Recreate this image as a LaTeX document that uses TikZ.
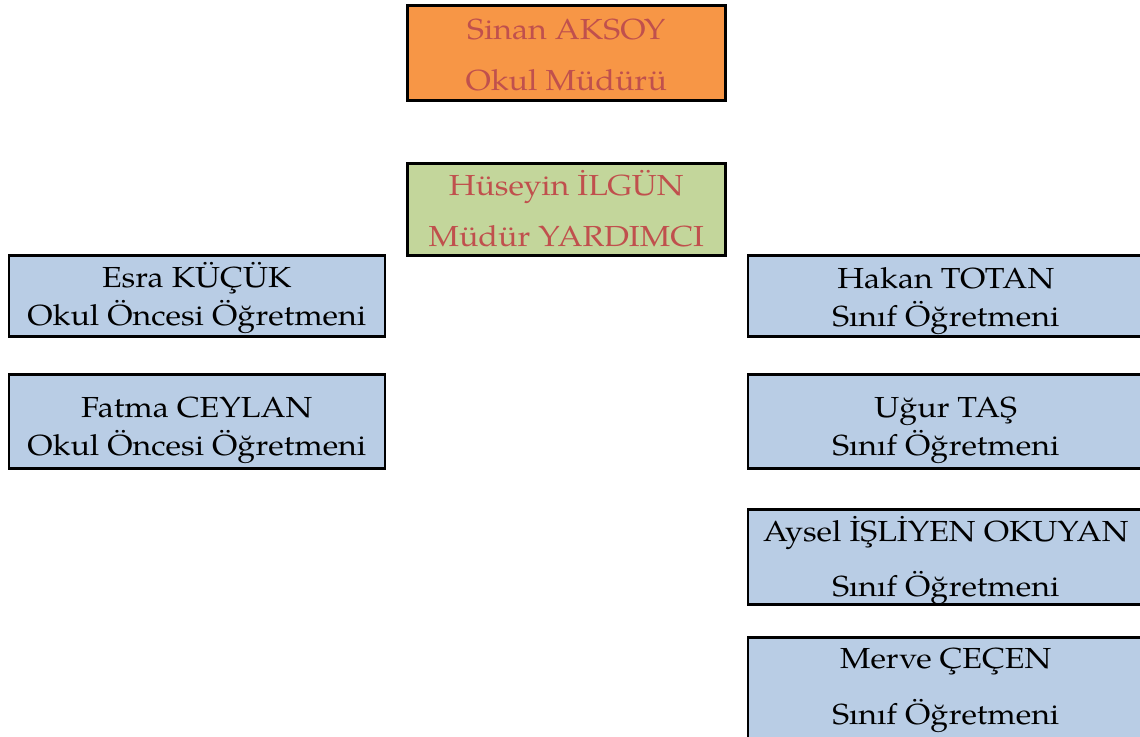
\documentclass[tikz,border=0pt]{standalone}
\usepackage{fontspec}
\setmainfont[FakeStretch=1.11]{texgyrepagella-regular.otf}
\definecolor{turuncu}{HTML}{F79646}
\definecolor{yesil}{HTML}{C3D69B}
\definecolor{mavi}{HTML}{B9CDE5}
\definecolor{kirmizi}{HTML}{C0504D}
\tikzset{
	kutu/.style={shape=rectangle, draw=black, line width=2.5pt, anchor=north west, align=center, inner sep=0pt},
	yonetici/.style={kutu, text=kirmizi, minimum width=318pt, font=\fontsize{29}{51}\selectfont},
	ogretmen/.style={kutu, fill=mavi, minimum width=376pt, font=\fontsize{29}{38}\selectfont},
	sinif/.style={ogretmen, minimum width=396pt}
}
\begin{document}
\begin{tikzpicture}[x=1pt, y=-1pt]
		\useasboundingbox (0, 0) rectangle (1140, 736);
		% management nodes
		\node[yonetici, fill=turuncu, text height=85.5pt, text depth=9.5pt] (Sinan) at (406, 4) {Sinan AKSOY\\Okul Müdürü};
		\node[yonetici, fill=yesil, text height=83pt, text depth=9pt] (Huseyin) at (406, 162) {Hüseyin İLGÜN\\Müdür YARDIMCI};
		% pre-school teacher nodes
		\node[ogretmen, text height=70pt, text depth=11pt] (Esra) at (7.5, 254) {Esra KÜÇÜK\\Okul Öncesi Öğretmeni};
		\node[ogretmen, text height=81pt, text depth=13pt] (Fatma) at (7.5, 373) {Fatma CEYLAN\\Okul Öncesi Öğretmeni};
		% class teacher nodes
		\node[sinif, text height=71pt, text depth=10pt] (Hakan) at (746.5, 254) {Hakan TOTAN\\Sınıf Öğretmeni};
		\node[sinif, text height=81pt, text depth=13pt] (Ugur) at (746.5, 373) {Uğur TAŞ\\Sınıf Öğretmeni};
		\node[sinif, text height=87pt, text depth=8pt, font=\fontsize{29}{55}\selectfont] (Aysel) at (746.5, 508) {Aysel İŞLİYEN OKUYAN\\Sınıf Öğretmeni};
		\node[sinif, text height=87pt, text depth=22pt, font=\fontsize{29}{56}\selectfont] (Merve) at (746.5, 636) {Merve ÇEÇEN\\Sınıf Öğretmeni};
	\end{tikzpicture}
\end{document}
